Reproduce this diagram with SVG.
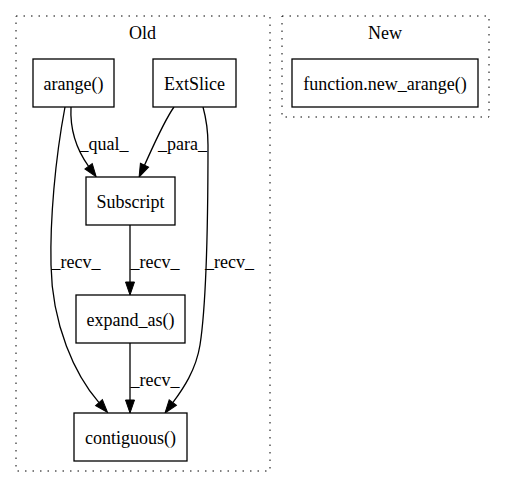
<svg xmlns="http://www.w3.org/2000/svg" width="505" height="488" viewBox="0 0 505 488">
<style>
text{font-family:"Liberation Serif","Times New Roman",serif;font-size:18px;fill:#000;text-anchor:middle}
.cl{fill:none;stroke:#000;stroke-dasharray:1.5,6}
.nd{fill:#fff;stroke:#000;stroke-width:1.3}
.ed{fill:none;stroke:#000;stroke-width:1.3;marker-end:url(#ah)}
</style>
<defs>
<marker id="ah" markerUnits="userSpaceOnUse" markerWidth="13" markerHeight="9" refX="0" refY="4.5" orient="auto" overflow="visible">
<path d="M0,0 L13,4.5 L0,9 z" fill="#000" stroke="#000"/>
</marker>
</defs>
<rect width="505" height="488" fill="#fff"/>
<g id="cluster_old">
<rect class="cl" x="16" y="16" width="254" height="455"/>
<text x="142.5" y="39">Old</text>
</g>
<g id="cluster_new">
<rect class="cl" x="282" y="16" width="207" height="101"/>
<text x="385" y="39">New</text>
</g>
<g id="edges">
<path class="ed" d="M71,107 C70,127 74,146 88.6,166.3"/>
<path class="ed" d="M174,107 C164,121 151,151 144.5,165.2"/>
<path class="ed" d="M65,107 C55,160 50,220 51,265 C52,325 75,375 99,402.6"/>
<path class="ed" d="M203,107 C206,118 208,130 208,145 C208,200 207,300 200,345 C196,370 183,389 172.8,402.6"/>
<path class="ed" d="M130,225 L130,282"/>
<path class="ed" d="M130,343 L130,400"/>
<text x="104" y="150">_qual_</text>
<text x="182.5" y="150">_para_</text>
<text x="76" y="268">_recv_</text>
<text x="155" y="268">_recv_</text>
<text x="229.5" y="268">_recv_</text>
<text x="155" y="386">_recv_</text>
</g>
<g id="arange"><rect class="nd" x="33" y="59" width="81" height="48"/><text x="73.5" y="89.5">arange()</text></g>
<g id="extslice"><rect class="nd" x="153" y="59" width="83" height="48"/><text x="194.5" y="89.5">ExtSlice</text></g>
<g id="subscript"><rect class="nd" x="86" y="177" width="89" height="48"/><text x="130.5" y="207.5">Subscript</text></g>
<g id="expand_as"><rect class="nd" x="76" y="295" width="109" height="48"/><text x="130.5" y="325.5">expand_as()</text></g>
<g id="contiguous"><rect class="nd" x="74" y="413" width="113" height="48"/><text x="130.5" y="443.5">contiguous()</text></g>
<g id="new_arange"><rect class="nd" x="292" y="59" width="186" height="48"/><text x="385" y="89.5">function.new_arange()</text></g>
</svg>
